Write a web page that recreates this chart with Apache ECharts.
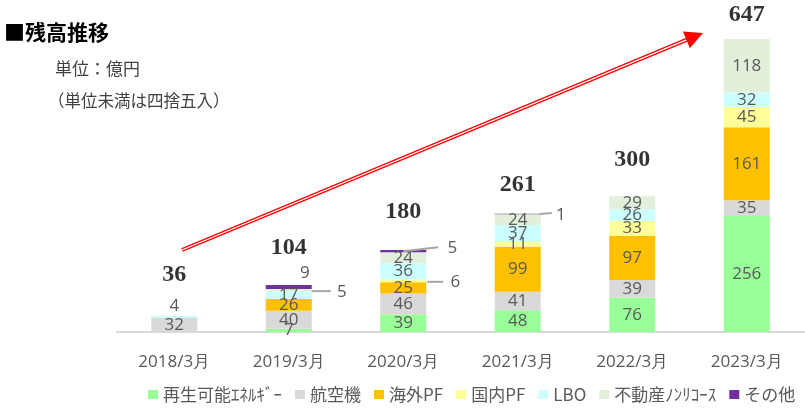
<!DOCTYPE html>
<html><head><meta charset="utf-8">
<script src="https://cdn.jsdelivr.net/npm/echarts@6/dist/echarts.min.js"></script>
<style>html,body{margin:0;padding:0;background:#fff}#c{width:805px;height:410px}</style>
</head><body><div id="c"></div>
<script>
const categories = ['2018/3月','2019/3月','2020/3月','2021/3月','2022/3月','2023/3月'];
const seriesNames = ['再生可能ｴﾈﾙｷﾞｰ','航空機','海外PF','国内PF','LBO','不動産ﾉﾝﾘｺｰｽ','その他'];
const renewable  = [0, 7, 39, 48, 76, 256];
const aircraft   = [32, 40, 46, 41, 39, 35];
const overseasPF = [0, 26, 25, 99, 97, 161];
const domesticPF = [0, 0, 6, 11, 33, 45];
const lbo        = [4, 17, 36, 37, 26, 32];
const realEstate = [0, 5, 24, 24, 29, 118];
const other      = [0, 9, 5, 1, 0, 0];
const totals     = [36, 104, 180, 261, 300, 647];

const colors = ['#99FF99','#D9D9D9','#FFC000','#FFFF99','#CCFFFF','#E2EFDA','#7030A0'];
const values = [renewable, aircraft, overseasPF, domesticPF, lbo, realEstate, other];

// label placement tweaks (style only)
const topLabels = {
  '4-0': {distance:1, offset:[0,0]},
  '6-1': {distance:3, offset:[16,0]}
};
// callouts with leader lines: [seriesIndex, categoryIndex] + pixel styling offsets
const callouts = [
  {s:5, c:1, l:[23,1,42,1], t:[53,2]},
  {s:6, c:2, l:[0,0,35,-4], t:[49,-3]},
  {s:3, c:2, l:[24,1,40,1], t:[52,1]},
  {s:6, c:3, l:[22,0,34,-1], t:[43,1.5]}
];
const calloutKeys = new Set(callouts.map(o => o.s + '-' + o.c));
const totalGap = [28, 25, 26, 17, 24, 12];

const labelFont = {fontFamily:'"Open Sans","Liberation Sans",sans-serif', fontSize:17, color:'#595959'};

const barSeries = seriesNames.map((name, si) => ({
  name, type:'bar', stack:'total', barWidth:46,
  itemStyle:{color:colors[si]},
  label:Object.assign({show:true, position:'inside',
    formatter:p => (p.value ? String(p.value) : '')}, labelFont),
  data: values[si].map((v, i) => {
    const key = si + '-' + i;
    if (calloutKeys.has(key)) return {value:v, label:{show:false}};
    const t = topLabels[key];
    if (t) return {value:v, label:{position:'top', distance:t.distance, offset:t.offset}};
    return v;
  })
}));

// callout data derived from the stacked values (segment midpoints)
const calloutData = callouts.map(o => {
  let base = 0;
  for (let k = 0; k < o.s; k++) base += values[k][o.c];
  const v = values[o.s][o.c];
  return [o.c, base + v / 2, v];
});

const calloutSeries = {
  name:'callouts', type:'custom', z:20, silent:true,
  data: calloutData,
  renderItem: (params, api) => {
    const o = callouts[params.dataIndex];
    const p = api.coord([api.value(0), api.value(1)]);
    return {type:'group', children:[
      {type:'line', shape:{x1:p[0]+o.l[0], y1:p[1]+o.l[1], x2:p[0]+o.l[2], y2:p[1]+o.l[3]},
       style:{stroke:'#A6A6A6', lineWidth:2}},
      {type:'text', style:{text:String(api.value(2)), x:p[0]+o.t[0], y:p[1]+o.t[1],
        align:'center', verticalAlign:'middle', textAlign:'center', textVerticalAlign:'middle',
        font:'17px "Open Sans","Liberation Sans",sans-serif', fill:'#595959'}}
    ]};
  }
};

const totalSeries = {
  name:'合計', type:'scatter', symbolSize:1, silent:true, z:10,
  itemStyle:{color:'rgba(0,0,0,0)'},
  label:{show:true, position:'top', color:'#000', fontSize:24, fontWeight:'bold',
    fontFamily:'"Liberation Serif","DejaVu Serif",serif'},
  data: totals.map((v, i) => ({value:v, label:{distance:totalGap[i]}}))
};

// decorative arrow
const sx = 182, sy = 250, tx = 703, ty = 33;
const dx = tx - sx, dy = ty - sy, L = Math.hypot(dx, dy), ux = dx / L, uy = dy / L;
const headLen = 18, headHalf = 9;
const bx = tx - ux * headLen, by = ty - uy * headLen;
const px = -uy, py = ux;

const chart = echarts.init(document.getElementById('c'), null, {renderer:'canvas'});
chart.setOption({
  animation:false,
  backgroundColor:'#fff',
  title:[
    {text:'■残高推移', left:4, top:22, padding:0,
     textStyle:{fontFamily:'"Noto Sans CJK JP",sans-serif', fontSize:21, fontWeight:'bold', color:'#000'}},
    {text:'単位：億円', left:55, top:60, padding:0,
     textStyle:{fontFamily:'"Noto Sans CJK JP",sans-serif', fontSize:17, fontWeight:'normal', color:'#404040'}},
    {text:'（単位未満は四捨五入）', left:48, top:92, padding:0,
     textStyle:{fontFamily:'"Noto Sans CJK JP",sans-serif', fontSize:16.5, fontWeight:'normal', color:'#404040'}}
  ],
  grid:{left:117, right:1, top:15, bottom:78},
  legend:{
    data:seriesNames,
    left:143, top:381, itemWidth:10, itemHeight:9, itemGap:13,
    icon:'rect',
    textStyle:{fontFamily:'"Noto Sans CJK JP",sans-serif', fontSize:17, color:'#595959'}
  },
  xAxis:{
    type:'category', data:categories,
    axisLine:{lineStyle:{color:'#D9D9D9', width:2}},
    axisTick:{show:false},
    axisLabel:{color:'#595959', fontSize:17, margin:22, fontFamily:'"Open Sans","Liberation Sans",sans-serif'}
  },
  yAxis:{type:'value', min:0, max:700, show:false},
  series:[...barSeries, calloutSeries, totalSeries],
  graphic:[
    {type:'line', z:100, shape:{x1:sx, y1:sy, x2:bx, y2:by}, style:{stroke:'#FF0000', lineWidth:4}},
    {type:'line', z:101, shape:{x1:sx, y1:sy, x2:bx, y2:by}, style:{stroke:'#FFFFFF', lineWidth:1.2}},
    {type:'polygon', z:102, shape:{points:[[tx,ty],[bx+px*headHalf, by+py*headHalf],[bx-px*headHalf, by-py*headHalf]]},
     style:{fill:'#FF0000'}}
  ]
});
</script>
</body></html>
